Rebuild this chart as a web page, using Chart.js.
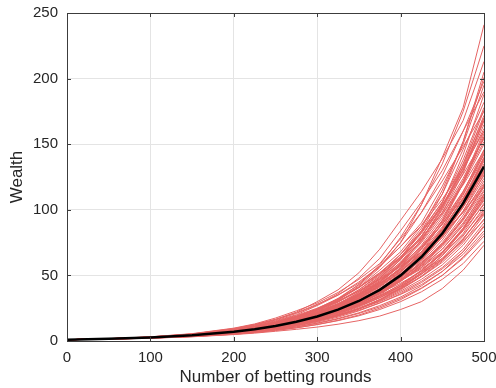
<!DOCTYPE html>
<html>
<head>
<meta charset="utf-8">
<script src="https://cdn.jsdelivr.net/npm/chart.js@4.4.1/dist/chart.umd.min.js"></script>
<style>
  html, body { margin: 0; padding: 0; background: #fff; }
</style>
</head>
<body>
<canvas id="wealthChart" width="496" height="388"></canvas>
<script>
let rounds = [0, 50, 100, 150, 200, 225, 250, 275, 300, 325, 350, 375, 400, 425, 450, 475, 500];

// black curve: average wealth
let meanWealth = [1, 1.63, 2.66, 4.3, 7.0, 9.0, 11.5, 14.7, 18.7, 23.9, 30.5, 39, 50, 64, 82, 105, 133];

// red curves: single simulated wealth paths
let paths = [
  [1, 1.7, 2.9, 4.9, 8.3, 10.8, 14.5, 18.8, 24, 31, 42, 56, 75, 104, 140, 178, 241],
  [1, 1.75, 3.1, 5.3, 9.5, 12.6, 16.5, 22, 30, 39, 52, 70, 92, 114, 139, 168, 213],
  [1, 1.7, 2.8, 4.6, 8.0, 10.5, 13.5, 17.5, 23, 30, 38, 49, 66, 86, 115, 152, 201],
  [1, 1.6, 2.9, 5.0, 8.8, 11.5, 15.5, 20, 27, 35, 44, 57, 72, 90, 118, 150, 195],
  [1, 1.65, 2.6, 4.4, 7.4, 9.6, 12.5, 16, 20.5, 27, 35, 46, 60, 79, 105, 142, 188],
  [1, 1.7, 2.8, 4.7, 7.8, 10.2, 13.4, 17.8, 23.5, 31, 41, 54, 68, 88, 112, 146, 182],
  [1, 1.6, 2.5, 4.1, 6.8, 8.9, 11.8, 15.5, 20, 26, 34, 44, 58, 77, 102, 135, 176],
  [1, 1.7, 2.9, 4.8, 8.2, 10.9, 14.2, 18.5, 24, 30, 38, 47, 60, 76, 98, 128, 170],
  [1, 1.6, 2.7, 4.5, 7.5, 9.5, 12.2, 15.8, 21, 27.5, 36, 47, 62, 80, 103, 130, 165],
  [1, 1.55, 2.5, 4.0, 6.6, 8.6, 11.2, 14.6, 19, 25, 32.5, 42, 54, 70, 92, 122, 160],
  [1, 1.7, 2.8, 4.6, 7.9, 10.4, 13.8, 18.4, 24.5, 32, 41, 51, 63, 78, 98, 124, 155],
  [1, 1.6, 2.6, 4.2, 6.9, 9.2, 12, 15.2, 19.5, 25.5, 33, 43, 56, 73, 94, 120, 150],
  [1, 1.65, 2.7, 4.5, 7.4, 9.4, 12, 15.4, 19.8, 25, 31.5, 40, 51, 66, 86, 113, 146],
  [1, 1.6, 2.6, 4.3, 7.2, 9.3, 12.2, 16, 21, 27.5, 35.5, 45, 57, 72, 91, 114, 142],
  [1, 1.55, 2.5, 4.0, 6.4, 8.2, 10.5, 13.4, 17.2, 22, 28.5, 37, 48, 62, 81, 106, 138],
  [1, 1.7, 2.8, 4.6, 7.6, 9.9, 12.8, 16.6, 21.5, 28, 36, 46, 58, 72, 89, 109, 134],
  [1, 1.6, 2.6, 4.2, 6.8, 8.7, 11.1, 14.2, 18.2, 23.4, 30, 38.5, 49, 62, 79, 102, 130],
  [1, 1.55, 2.5, 4.1, 6.7, 8.8, 11.5, 15, 19.6, 25.5, 33, 42, 53, 66, 82, 102, 126],
  [1, 1.6, 2.6, 4.3, 7.1, 9.2, 11.8, 15, 19, 24, 30, 37.5, 47, 59, 75, 96, 122],
  [1, 1.5, 2.4, 3.8, 6.1, 7.8, 10.1, 13.1, 17, 22, 28.5, 36.5, 46, 58, 73, 93, 118],
  [1, 1.65, 2.7, 4.4, 7.3, 9.3, 11.8, 15, 19, 24, 30, 37, 45.5, 56, 70, 89, 114],
  [1, 1.6, 2.55, 4.1, 6.6, 8.5, 10.9, 14, 18, 23, 29, 36.5, 45.5, 57, 70, 88, 111],
  [1, 1.5, 2.4, 3.9, 6.3, 8.2, 10.5, 13.4, 17, 21.5, 27.5, 34.5, 43, 54, 67, 85, 108],
  [1, 1.6, 2.6, 4.2, 6.7, 8.5, 10.7, 13.5, 17, 21.5, 27, 34, 42, 52, 65, 82, 105],
  [1, 1.55, 2.5, 4.0, 6.5, 8.4, 10.8, 13.8, 17.5, 22, 27.5, 34, 41.5, 51, 63, 80, 102],
  [1, 1.5, 2.35, 3.7, 5.9, 7.5, 9.6, 12.2, 15.4, 19.5, 24.5, 31, 39, 49, 61, 77, 99],
  [1, 1.6, 2.6, 4.2, 6.8, 8.7, 11, 14, 17.6, 22, 27, 33, 40, 49, 60, 75, 96],
  [1, 1.5, 2.4, 3.8, 6.0, 7.7, 9.8, 12.4, 15.6, 19.6, 24.5, 30.5, 38, 47, 58, 73, 93],
  [1, 1.55, 2.45, 3.9, 6.2, 7.9, 10, 12.6, 15.8, 19.8, 24.5, 30, 37, 45.5, 56, 70, 90],
  [1, 1.45, 2.3, 3.6, 5.6, 7.1, 9.0, 11.4, 14.4, 18.2, 23, 29, 36, 44.5, 55, 68, 87],
  [1, 1.5, 2.4, 3.8, 6.1, 7.7, 9.7, 12.2, 15.2, 19, 23.5, 29, 35.5, 43, 53, 66, 84],
  [1, 1.45, 2.25, 3.5, 5.4, 6.8, 8.5, 10.7, 13.4, 16.8, 21, 26, 32.5, 40.5, 50, 63, 80],
  [1, 1.4, 2.2, 3.4, 5.2, 6.5, 8.1, 10.1, 12.5, 15.5, 19.2, 24, 30, 37.5, 47, 59, 76],
  [1, 1.4, 2.1, 3.2, 4.9, 6.0, 7.4, 8.9, 10.6, 12.8, 15.5, 19, 24, 30, 40, 54, 73],
  [1, 1.7, 2.9, 4.8, 8.0, 10.5, 13.6, 17.5, 22.5, 28.5, 35.5, 44, 54, 66, 80, 98, 120],
  [1, 1.5, 2.4, 3.8, 6.0, 7.7, 9.8, 12.5, 16, 20.5, 27, 35, 46, 61, 80, 106, 140],
  [1, 1.6, 2.6, 4.3, 7.2, 9.4, 12.3, 16, 21, 27.5, 36, 48, 63, 84, 112, 152, 205],
  [1, 1.65, 2.75, 4.6, 7.7, 10, 13, 17, 22.5, 29.5, 39, 51, 66, 84, 106, 138, 178],
  [1, 1.65, 2.8, 4.6, 7.6, 9.8, 12.5, 15.8, 20, 25, 31, 38, 46, 55, 66, 81, 100],
  [1, 1.5, 2.45, 3.9, 6.3, 8.1, 10.4, 13.5, 17.6, 23, 30, 39.5, 52, 68, 90, 120, 158],
  [1, 1.8, 3.2, 5.6, 9.8, 13, 17.5, 23, 29, 37, 47, 59, 78, 98, 122, 148, 175],
  [1, 1.75, 3.0, 5.2, 9.0, 12, 16, 21, 27.5, 36, 48, 63, 84, 106, 130, 160, 190],
  [1, 1.8, 3.1, 5.4, 9.2, 12.3, 16.5, 21.5, 28, 35, 45, 57, 72, 88, 108, 132, 160],
  [1, 1.7, 3.0, 5.1, 8.7, 11.5, 15, 19.5, 25, 32, 41, 52, 64, 79, 97, 119, 145],
  [1, 1.65, 2.8, 4.7, 8.0, 10.6, 14, 18.4, 24, 32, 43, 58, 79, 104, 135, 175, 225],
  [1, 1.6, 2.7, 4.4, 7.3, 9.5, 12.4, 16.2, 21.2, 28, 37, 49, 64, 83, 106, 135, 170],
  [1, 1.7, 2.85, 4.7, 7.9, 10.2, 13.2, 17, 22, 28, 35, 44, 55, 68, 84, 104, 128],
  [1, 1.55, 2.55, 4.1, 6.6, 8.6, 11.2, 14.5, 18.6, 24, 31, 39, 48, 60, 73, 92, 115],
  [1, 1.6, 2.6, 4.3, 7.0, 9.1, 11.7, 15, 19.2, 24.5, 30.5, 37.5, 46, 56, 68, 85, 107],
  [1, 1.5, 2.4, 3.9, 6.2, 8.0, 10.2, 13, 16.5, 21, 26.5, 33, 41, 51, 62, 78, 97],
  [1, 1.45, 2.25, 3.5, 5.5, 6.9, 8.7, 10.9, 13.7, 17.2, 21.5, 27, 33.5, 42, 53, 68, 88],
  [1, 1.4, 2.15, 3.3, 5.1, 6.4, 8.0, 10, 12.6, 15.8, 19.8, 25, 31.5, 40, 50, 64, 82],
  [1, 1.55, 2.5, 4.0, 6.5, 8.4, 10.8, 13.9, 18, 23.2, 30, 39, 50, 65, 84, 108, 135],
  [1, 1.6, 2.65, 4.4, 7.3, 9.5, 12.3, 16, 20.8, 27, 35, 45, 58, 75, 96, 122, 152],
  [1, 1.5, 2.45, 3.9, 6.4, 8.3, 10.7, 13.8, 17.8, 23, 29.5, 38, 48.5, 62, 79, 99, 124],
  [1, 1.75, 3.0, 5.0, 8.4, 11, 14.4, 18.8, 24, 30.5, 38, 47, 57, 68, 81, 98, 118],
  [1, 1.7, 2.9, 4.8, 8.1, 10.7, 14.1, 18.5, 24.5, 32.5, 43, 57, 75, 98, 126, 160, 198],
  [1, 1.45, 2.3, 3.6, 5.7, 7.3, 9.3, 11.8, 15, 19.2, 24.5, 31.5, 40, 51, 65, 85, 110],
  [1, 1.7, 2.8, 4.6, 7.6, 9.7, 12.3, 15.5, 19.5, 24.2, 30, 36.5, 44, 53, 63, 76, 92],
  [1, 1.55, 2.55, 4.2, 6.9, 9.0, 11.7, 15.3, 20, 26.2, 34.5, 45, 59, 77, 100, 130, 168],
  [1, 1.6, 2.7, 4.4, 7.2, 9.3, 12, 15.6, 20.2, 26.4, 34.5, 45, 59, 77, 101, 133, 172],
  [1, 1.65, 2.75, 4.5, 7.5, 9.8, 12.8, 16.7, 21.8, 28.5, 37, 48, 62, 80, 103, 132, 168],
  [1, 1.55, 2.55, 4.2, 6.9, 9.0, 11.6, 15, 19.4, 25.2, 32.8, 42.5, 55, 71, 92, 120, 156],
  [1, 1.6, 2.6, 4.3, 7.1, 9.2, 11.9, 15.4, 20, 26, 33.5, 43, 55, 70, 89, 114, 144],
  [1, 1.7, 2.8, 4.6, 7.6, 9.8, 12.6, 16.2, 20.8, 26.6, 34, 43.5, 55.5, 70.5, 89, 112, 140],
  [1, 1.6, 2.65, 4.35, 7.1, 9.2, 11.8, 15.2, 19.5, 25, 32, 41, 52.5, 67, 85, 108, 137],
  [1, 1.55, 2.5, 4.05, 6.6, 8.5, 11, 14.2, 18.3, 23.6, 30.5, 39.5, 51, 66, 85, 109, 139],
  [1, 1.65, 2.7, 4.4, 7.2, 9.2, 11.7, 14.9, 19, 24.2, 30.8, 39.2, 50, 63.5, 80.5, 102, 129],
  [1, 1.6, 2.55, 4.1, 6.6, 8.5, 10.9, 14, 18, 23.2, 29.8, 38.5, 49.5, 63.5, 81, 103, 131],
  [1, 1.5, 2.45, 3.95, 6.3, 8.1, 10.4, 13.3, 17, 21.8, 28, 36, 46.5, 60, 77, 99, 127],
  [1, 1.6, 2.6, 4.25, 6.9, 8.9, 11.4, 14.6, 18.6, 23.6, 29.8, 37.5, 47, 59, 74, 94, 119],
  [1, 1.55, 2.5, 4.05, 6.5, 8.4, 10.7, 13.7, 17.5, 22.2, 28.2, 35.8, 45.5, 58, 73.5, 93, 117],
  [1, 1.65, 2.7, 4.4, 7.1, 9.1, 11.5, 14.6, 18.4, 23.2, 29.2, 36.6, 45.8, 57.5, 72, 90, 112],
  [1, 1.5, 2.4, 3.85, 6.1, 7.8, 9.9, 12.6, 16, 20.4, 26, 33, 42, 53.5, 68, 86, 109],
  [1, 1.6, 2.6, 4.2, 6.8, 8.7, 11, 13.9, 17.5, 22, 27.6, 34.5, 43, 53.5, 67, 84, 104],
  [1, 1.55, 2.45, 3.9, 6.2, 7.9, 10, 12.6, 15.9, 20, 25.2, 31.6, 39.6, 49.5, 62, 78, 98],
  [1, 1.7, 2.9, 4.8, 8.0, 10.5, 13.8, 18, 23.4, 30.3, 39, 50, 64, 82, 104, 130, 162],
  [1, 1.75, 2.95, 4.9, 8.3, 10.9, 14.3, 18.7, 24.3, 31.5, 40.5, 52, 66, 83, 103, 127, 154],
  [1, 1.45, 2.3, 3.65, 5.8, 7.4, 9.4, 11.9, 15.1, 19.2, 24.5, 31.5, 40.5, 52, 67, 86, 112],
  [1, 1.6, 2.65, 4.35, 7.15, 9.25, 11.9, 15.3, 19.7, 25.3, 32.5, 41.5, 53, 68, 87, 111, 143]
];

// tick labels
let xTicks = [0, 100, 200, 300, 400, 500];
let yTicks = [0, 50, 100, 150, 200, 250];

let canvas = document.querySelector("#wealthChart");
let context = canvas.getContext("2d");

function toPoints(values) {
  return values.map(function (v, i) {
    return { x: rounds[i], y: v };
  });
}

// black mean line first so it is drawn on top
let datasets = [
  {
    label: "mean",
    data: toPoints(meanWealth),
    borderColor: "#000000",
    borderWidth: 2.5,
  },
];

paths.forEach(function (p, i) {
  datasets.push({
    label: "path " + (i + 1),
    data: toPoints(p),
    borderColor: "rgb(230,100,100)",
    borderWidth: 1,
  });
});

// matlab-like box with inward ticks
let boxPlugin = {
  id: "box",
  afterDraw: function (chart) {
    let ctx = chart.ctx;
    let a = chart.chartArea;
    let xs = chart.scales.x;
    let ys = chart.scales.y;
    ctx.save();
    ctx.strokeStyle = "#3c3c3c";
    ctx.lineWidth = 1;
    ctx.beginPath();
    xTicks.forEach(function (t) {
      let px = Math.round(xs.getPixelForValue(t)) + 0.5;
      ctx.moveTo(px, a.bottom);
      ctx.lineTo(px, a.bottom - 4);
      ctx.moveTo(px, a.top);
      ctx.lineTo(px, a.top + 4);
    });
    yTicks.forEach(function (t) {
      let py = Math.round(ys.getPixelForValue(t)) + 0.5;
      ctx.moveTo(a.left, py);
      ctx.lineTo(a.left + 4, py);
      ctx.moveTo(a.right, py);
      ctx.lineTo(a.right - 4, py);
    });
    ctx.stroke();
    ctx.strokeRect(Math.round(a.left) + 0.5, Math.round(a.top) + 0.5,
      Math.round(a.right - a.left), Math.round(a.bottom - a.top));
    ctx.restore();
  },
};

let font = "'Liberation Sans', Arial, Helvetica, sans-serif";

let wealthChart = new Chart(context, {
  type: "line",
  data: { datasets: datasets },
  options: {
    responsive: false,
    animation: false,
    events: [],
    layout: {
      autoPadding: false,
      padding: { left: 0, right: 12, top: 13, bottom: 0 },
    },
    elements: {
      point: { radius: 0 },
      line: { tension: 0 },
    },
    plugins: {
      legend: { display: false },
      tooltip: { enabled: false },
    },
    scales: {
      x: {
        type: "linear",
        min: 0,
        max: 500,
        afterBuildTicks: function (scale) {
          scale.ticks = xTicks.map(function (v) { return { value: v }; });
        },
        afterFit: function (scale) {
          scale.height = 47;
          scale.paddingLeft = 0;
          scale.paddingRight = 0;
        },
        grid: { color: "#e4e4e4", drawTicks: false },
        border: { display: false },
        ticks: { color: "#262626", padding: 8, maxRotation: 0, font: { family: font, size: 15 } },
        title: {
          display: true,
          text: "Number of betting rounds",
          color: "#262626",
          padding: { top: 2, bottom: 0 },
          font: { family: font, size: 17 },
        },
      },
      y: {
        min: 0,
        max: 250,
        afterBuildTicks: function (scale) {
          scale.ticks = yTicks.map(function (v) { return { value: v }; });
        },
        afterFit: function (scale) {
          scale.width = 67;
          scale.paddingTop = 0;
          scale.paddingBottom = 0;
        },
        grid: { color: "#e4e4e4", drawTicks: false },
        border: { display: false },
        ticks: { color: "#262626", padding: 9, font: { family: font, size: 15 } },
        title: {
          display: true,
          text: "Wealth",
          color: "#262626",
          padding: { top: 7, bottom: 2 },
          font: { family: font, size: 17 },
        },
      },
    },
  },
  plugins: [boxPlugin],
});
</script>
</body>
</html>
